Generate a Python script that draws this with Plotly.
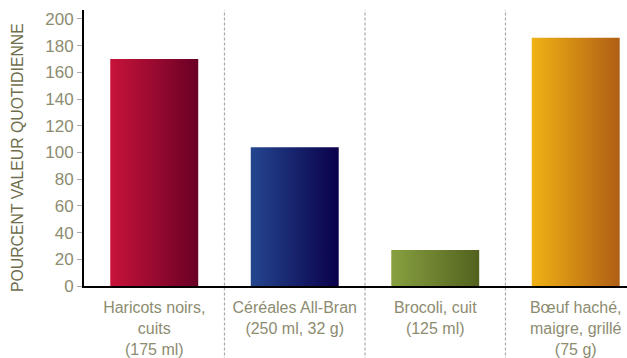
import plotly.graph_objects as go

# Daily value percentages per food portion
categories = [
    "Haricots noirs,<br>cuits<br>(175 ml)",
    "Céréales All-Bran<br>(250 ml, 32 g)",
    "Brocoli, cuit<br>(125 ml)",
    "Bœuf haché,<br>maigre, grillé<br>(75 g)",
]
values = [170, 104, 27, 186]
y_ticks = [0, 20, 40, 60, 80, 100, 120, 140, 160, 180, 200]
y_title = "POURCENT VALEUR QUOTIDIENNE"

# left-to-right gradient colours for each bar
grad_left = ["#C8133A", "#24468F", "#88A040", "#F0B214"]
grad_right = ["#6A0025", "#0A004A", "#52621E", "#B05E14"]

BAR_HALF = 0.313
FONT = "Liberation Sans, Arial, sans-serif"
TICK_COLOR = "#8C8C70"
TITLE_COLOR = "#6E6E4C"

fig = go.Figure()

for i, (v, cl, cr) in enumerate(zip(values, grad_left, grad_right)):
    x0, x1 = i - BAR_HALF, i + BAR_HALF
    fig.add_trace(go.Scatter(
        x=[x0, x1, x1, x0, x0],
        y=[0, 0, v, v, 0],
        mode="lines",
        line=dict(width=0),
        fill="toself",
        fillgradient=dict(type="horizontal", colorscale=[[0, cl], [1, cr]]),
        hoverinfo="skip",
        showlegend=False,
    ))

# dashed separators between categories
for k in range(len(categories) - 1):
    fig.add_shape(
        type="line", xref="x", yref="paper",
        x0=k + 0.5, x1=k + 0.5, y0=-0.27, y1=1,
        line=dict(color="#AAAAAA", width=1.2, dash="3px,2px"),
        layer="below",
    )

# rotated y-axis title
fig.add_annotation(
    text=y_title, textangle=-90,
    xref="paper", yref="paper", x=-0.1234, y=0.467,
    xanchor="center", yanchor="middle", showarrow=False,
    font=dict(size=15.8, color=TITLE_COLOR),
)

fig.update_layout(
    width=627, height=358,
    margin=dict(l=84, r=0, t=10, b=72),
    plot_bgcolor="white", paper_bgcolor="white",
    font=dict(family=FONT, size=16, color=TICK_COLOR),
    xaxis=dict(
        range=[-0.5, 3.365],
        tickmode="array",
        tickvals=list(range(len(categories))),
        ticktext=categories,
        showgrid=False, zeroline=False,
        showline=True, linecolor="black", linewidth=2,
        ticks="", ticklabelstandoff=6,
        tickfont=dict(size=16, color=TICK_COLOR),
    ),
    yaxis=dict(
        range=[0, 206.7],
        tickmode="array", tickvals=y_ticks,
        showgrid=False, zeroline=False,
        showline=True, linecolor="black", linewidth=2,
        ticks="outside", ticklen=5, tickcolor="#AAAAAA", tickwidth=1,
        tickfont=dict(size=17, color=TICK_COLOR),
    ),
)

fig.write_html("out.html")
